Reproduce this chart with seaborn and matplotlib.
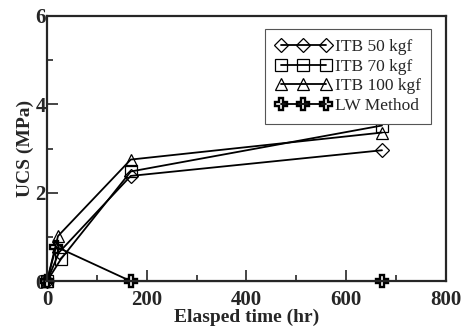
import pandas as pd
import matplotlib.pyplot as plt
import seaborn as sns

# values
t_50 = [0, 24, 168, 672]
ucs_50 = [0, 0.65, 2.38, 2.96]
t_70 = [0, 28, 168, 672]
ucs_70 = [0, 0.50, 2.48, 3.52]
t_100 = [0, 22, 168, 672]
ucs_100 = [0, 1.02, 2.75, 3.36]
t_lw = [0, 18, 168, 672]
ucs_lw = [0, 0.78, 0, 0]

series = [
    ('ITB 50 kgf', t_50, ucs_50, 'D', 7, 0.9),
    ('ITB 70 kgf', t_70, ucs_70, 's', 9, 0.9),
    ('ITB 100 kgf', t_100, ucs_100, '^', 9, 0.9),
    ('LW Method', t_lw, ucs_lw, 'P', 8, 1.7),
]

sns.set_style('ticks')
plt.rcParams['font.family'] = ['Liberation Serif', 'DejaVu Serif']

fig = plt.figure(figsize=(4.61, 3.30), dpi=100)
ax = fig.add_axes([0.102, 0.148, 0.865, 0.804])

for name, t, u, m, ms, mew in series:
    df = pd.DataFrame({'t': t, 'ucs': u})
    sns.lineplot(data=df, x='t', y='ucs', ax=ax, color='black', linewidth=1.3,
                 marker=m, markersize=ms, markerfacecolor='none',
                 markeredgecolor='black', markeredgewidth=mew, label=name,
                 clip_on=False)

ax.set_xlim(0, 800)
ax.set_ylim(0, 6)
ax.set_xticks([0, 200, 400, 600, 800])
ax.set_xticks([100, 300, 500, 700], minor=True)
ax.set_yticks([0, 2, 4, 6])
ax.set_yticks([1, 3, 5], minor=True)
ax.tick_params(which='both', direction='in', width=1.2, labelsize=15)
ax.tick_params(axis='x', pad=6.5)
ax.tick_params(axis='y', pad=1)
ax.tick_params(which='major', length=8)
ax.tick_params(which='minor', length=4)
for lab in ax.get_xticklabels() + ax.get_yticklabels():
    lab.set_fontweight('bold')
for s in ax.spines.values():
    s.set_linewidth(1.6)
    s.set_visible(True)

ax.set_xlabel('Elasped time (hr)', fontsize=14, fontweight='bold', labelpad=-1)
ax.set_ylabel('UCS (MPa)', fontsize=14, fontweight='bold', labelpad=1)

leg = ax.legend(loc='upper right', numpoints=3, fontsize=12.5, fancybox=False,
                framealpha=1, edgecolor='#555555', handlelength=3.2,
                handletextpad=0.2, borderpad=0.6, labelspacing=0.2,
                bbox_to_anchor=(0.985, 0.985))
leg.get_frame().set_linewidth(0.8)

plt.savefig('out.png', dpi=100)
